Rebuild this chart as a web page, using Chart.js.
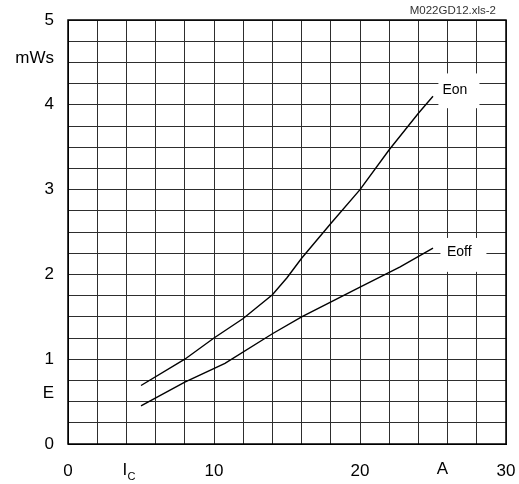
<!DOCTYPE html>
<html>
<head>
<meta charset="utf-8">
<title>Switching energy vs collector current</title>
<script src="https://cdn.jsdelivr.net/npm/chart.js@4.4.1/dist/chart.umd.min.js"></script>
<style>
  html, body { margin: 0; padding: 0; background: #ffffff; }
  #wrap { width: 519px; height: 484px; position: relative; }
</style>
</head>
<body>
<div id="wrap"><canvas id="chart" width="519" height="484"></canvas></div>
<script>
// Collector current I_C (A) and switching energies (mWs)
const eonCurrent = [5, 8, 10, 12, 14, 15, 16, 18, 20, 22, 24, 25];
const eonEnergy  = [0.69, 1.0, 1.25, 1.48, 1.76, 1.96, 2.19, 2.6, 3.0, 3.47, 3.9, 4.1];

const eoffCurrent = [5, 8, 10.75, 14, 16, 20, 22.75, 25];
const eoffEnergy  = [0.45, 0.73, 0.95, 1.3, 1.5, 1.85, 2.09, 2.31];

// Numbered tick labels on each axis
const xTickLabels = [0, 10, 20, 30];
const yTickLabels = [0, 1, 2, 3, 4, 5];

const FONT = "'Liberation Sans', Arial, sans-serif";

const toPoints = (xs, ys) => xs.map((x, i) => ({ x: x, y: ys[i] }));

// Extra text: axis names/units, curve tags with white boxes, file tag
const annotations = {
  id: 'annotations',
  afterDatasetsDraw(chart) {
    const { ctx, chartArea: a, scales: { x, y } } = chart;
    ctx.save();

    // frame around the plot area
    ctx.strokeStyle = '#000';
    ctx.lineWidth = 1.5;
    ctx.strokeRect(a.left, a.top, a.right - a.left, a.bottom - a.top);

    // curve tags
    const tags = [
      { text: 'Eon',  cx: 26.5, cy: 4.175, x0: 25.37, x1: 28.18, y0: 3.96, y1: 4.37 },
      { text: 'Eoff', cx: 26.8, cy: 2.258, x0: 25.51, x1: 28.66, y0: 2.03, y1: 2.43 }
    ];
    tags.forEach(t => {
      const l = x.getPixelForValue(t.x0), r = x.getPixelForValue(t.x1);
      const tp = y.getPixelForValue(t.y1), bt = y.getPixelForValue(t.y0);
      ctx.fillStyle = '#fff';
      ctx.fillRect(l, tp, r - l, bt - tp);
      ctx.fillStyle = '#000';
      ctx.font = '14px ' + FONT;
      ctx.textAlign = 'center';
      ctx.textBaseline = 'middle';
      ctx.fillText(t.text, x.getPixelForValue(t.cx), y.getPixelForValue(t.cy));
    });

    // y-axis name and unit
    ctx.fillStyle = '#000';
    ctx.font = '17px ' + FONT;
    ctx.textAlign = 'right';
    ctx.textBaseline = 'middle';
    const yLabelX = y.right - 14;
    ctx.fillText('mWs', yLabelX, y.getPixelForValue(4.55));
    ctx.fillText('E', yLabelX, y.getPixelForValue(0.6));

    // x-axis name (I with subscript C) and unit
    const lblY = 470;
    const icX = x.getPixelForValue(4);
    ctx.textAlign = 'left';
    ctx.font = '17px ' + FONT;
    ctx.fillText('I', icX - 4, lblY);
    ctx.font = '11px ' + FONT;
    ctx.fillText('C', icX + 1, lblY + 7);
    ctx.font = '17px ' + FONT;
    ctx.textAlign = 'center';
    ctx.fillText('A', x.getPixelForValue(25.65), lblY - 1);

    // file tag
    ctx.font = '11.5px ' + FONT;
    ctx.fillStyle = '#333';
    ctx.textAlign = 'right';
    ctx.fillText('M022GD12.xls-2', 496, 11);

    ctx.restore();
  }
};

new Chart(document.getElementById('chart'), {
  type: 'line',
  data: {
    datasets: [
      {
        label: 'Eon',
        data: toPoints(eonCurrent, eonEnergy),
        borderColor: '#000',
        borderWidth: 1.4,
        pointRadius: 0,
        tension: 0,
        fill: false
      },
      {
        label: 'Eoff',
        data: toPoints(eoffCurrent, eoffEnergy),
        borderColor: '#000',
        borderWidth: 1.4,
        pointRadius: 0,
        tension: 0,
        fill: false
      }
    ]
  },
  options: {
    responsive: false,
    animation: false,
    devicePixelRatio: 1,
    layout: { padding: { top: 20, right: 13, left: 0, bottom: 0 } },
    plugins: {
      legend: { display: false },
      tooltip: { enabled: false }
    },
    scales: {
      x: {
        type: 'linear',
        min: 0,
        max: 30,
        afterFit(scale) {
          scale.height = 40;
          scale.paddingLeft = 0;
          scale.paddingRight = 0;
        },
        grid: { color: '#2e2e2e', lineWidth: 1, drawTicks: false },
        border: { color: '#000', width: 1 },
        ticks: {
          stepSize: 2,
          autoSkip: false,
          maxRotation: 0,
          padding: 17,
          color: '#000',
          font: { family: FONT, size: 17 },
          callback: v => (xTickLabels.includes(v) ? String(v) : '')
        }
      },
      y: {
        type: 'linear',
        min: 0,
        max: 5,
        afterFit(scale) {
          scale.width = 68;
          scale.paddingTop = 0;
          scale.paddingBottom = 0;
        },
        grid: { color: '#2e2e2e', lineWidth: 1, drawTicks: false },
        border: { color: '#000', width: 1 },
        ticks: {
          stepSize: 0.25,
          autoSkip: false,
          padding: 14,
          color: '#000',
          font: { family: FONT, size: 17 },
          callback: v => (yTickLabels.includes(v) ? String(v) : '')
        }
      }
    }
  },
  plugins: [annotations]
});
</script>
</body>
</html>
